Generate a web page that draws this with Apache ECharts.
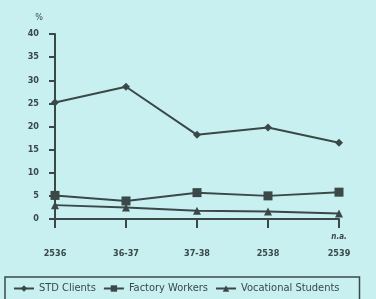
<!DOCTYPE html>
<html>
<head>
<meta charset="utf-8">
<script src="https://cdn.jsdelivr.net/npm/echarts@6/dist/echarts.min.js"></script>
<style>
	html, body { margin: 0; padding: 0; background: #c8f0f0; }
	#main { width: 376px; height: 299px; }
</style>
</head>
<body>
<div id="main"></div>
<script>
	// 年份分类
	let years = ['2536', '36-37', '37-38', '2538', '2539'];
	// 各组百分比
	let stdClients = [25.2, 28.6, 18.2, 19.8, 16.5];
	let factoryWorkers = [5.1, 3.9, 5.7, 5.0, 5.8];
	let vocationalStudents = [3.0, 2.5, 1.8, 1.6, 1.2];
	let yTicks = [0, 40, 5];

	let ink = '#3a4848';
	let myChart = echarts.init(document.getElementById('main'));

	function makeSeries(name, data, symbol, size) {
		return {
			name: name,
			type: 'line',
			data: data,
			symbol: symbol,
			symbolSize: size,
			lineStyle: { color: ink, width: 2 },
			itemStyle: { color: ink },
			animation: false
		};
	}

	let option = {
		backgroundColor: '#c8f0f0',
		textStyle: { fontFamily: 'DejaVu Sans Condensed', color: ink },
		grid: { left: 55, right: 37, top: 34, bottom: 80 },
		legend: {
			left: 5,
			top: 277,
			width: 400,
			padding: [6, 20, 10, 8],
			borderColor: ink,
			borderWidth: 1.5,
			itemWidth: 20,
			itemHeight: 8,
			itemGap: 7,
			textStyle: { fontSize: 11, color: ink, fontFamily: 'DejaVu Sans Condensed' },
			data: ['STD Clients', 'Factory Workers', 'Vocational Students']
		},
		xAxis: {
			type: 'category',
			data: years,
			boundaryGap: false,
			axisLine: { lineStyle: { color: ink, width: 2 } },
			axisTick: { length: 9, lineStyle: { color: ink, width: 2 } },
			axisLabel: {
				margin: 9,
				fontSize: 9,
				fontWeight: 'bold',
				color: ink,
				lineHeight: 17,
				formatter: function (v, i) {
					return (i === years.length - 1 ? '{n|n.a.}' : ' ') + '\n' + v;
				},
				rich: { n: { fontSize: 8, fontStyle: 'italic', fontWeight: 'bold', color: ink } }
			}
		},
		yAxis: {
			type: 'value',
			min: yTicks[0],
			max: yTicks[1],
			interval: yTicks[2],
			name: '%',
			nameLocation: 'end',
			nameGap: 12,
			nameTextStyle: { fontSize: 9, color: ink, align: 'right', padding: [0, 12, 0, 0] },
			splitLine: { show: false },
			axisLine: { show: true, lineStyle: { color: ink, width: 2 } },
			axisTick: { show: true, length: 6, lineStyle: { color: ink, width: 2 } },
			axisLabel: { fontSize: 9, fontWeight: 'bold', color: ink, margin: 16 }
		},
		series: [
			makeSeries('STD Clients', stdClients, 'diamond', 8),
			makeSeries('Factory Workers', factoryWorkers, 'rect', 9),
			makeSeries('Vocational Students', vocationalStudents, 'triangle', 8)
		]
	};
	myChart.setOption(option);
</script>
</body>
</html>
